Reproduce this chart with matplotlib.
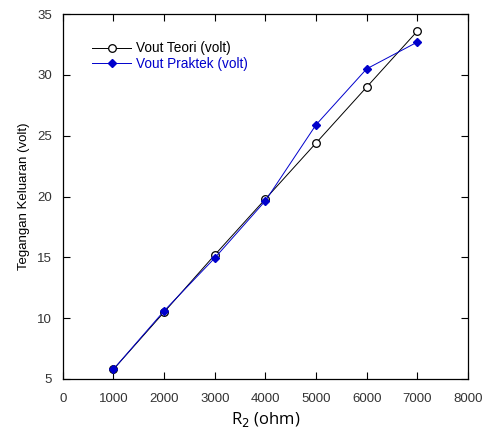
import matplotlib
matplotlib.use("Agg")
import matplotlib.pyplot as plt

r2 = [1000, 2000, 3000, 4000, 5000, 6000, 7000]
vout_teori = [5.8, 10.5, 15.2, 19.8, 24.4, 29.0, 33.6]
vout_praktek = [5.8, 10.6, 14.95, 19.65, 25.9, 30.5, 32.7]
xticks = [0, 1000, 2000, 3000, 4000, 5000, 6000, 7000, 8000]
yticks = [5, 10, 15, 20, 25, 30, 35]

plt.rcParams['font.family'] = ['Liberation Sans', 'DejaVu Sans']

fig = plt.figure(figsize=(4.91, 4.28), dpi=100)
ax = fig.add_axes([0.128, 0.1145, 0.825, 0.8525])

ax.plot(r2, vout_teori, color='black', lw=0.7, marker='o', ms=5.5,
        mfc='white', mec='black', mew=0.9, label='Vout Teori (volt)')
ax.plot(r2, vout_praktek, color='#0000CC', lw=0.7, marker='D', ms=4,
        mfc='#0000CC', mec='#0000CC', label='Vout Praktek (volt)')

ax.set_xlim(0, 8000)
ax.set_ylim(5, 35)
ax.set_xticks(xticks)
ax.set_yticks(yticks)
ax.tick_params(direction='in', top=True, right=True, length=5, width=0.8,
               labelsize=9.5, colors='black', labelcolor='#333333')
ax.tick_params(axis='x', pad=10)
ax.tick_params(axis='y', pad=8)
for s in ax.spines.values():
    s.set_linewidth(0.9)

ax.set_xlabel('R$_2$ (ohm)', fontsize=12, family=['Open Sans', 'DejaVu Sans'], labelpad=4)
ax.set_ylabel('Tegangan Keluaran (volt)', fontsize=9.5, labelpad=5)

leg = ax.legend(loc='upper left', bbox_to_anchor=(0.072, 0.925), frameon=False,
                fontsize=9.8, handlelength=2.9, handletextpad=0.3, borderaxespad=0,
                labelspacing=0.12, borderpad=0)
for t, c in zip(leg.get_texts(), ['black', '#0000CC']):
    t.set_color(c)

fig.savefig('out.png', dpi=100)
